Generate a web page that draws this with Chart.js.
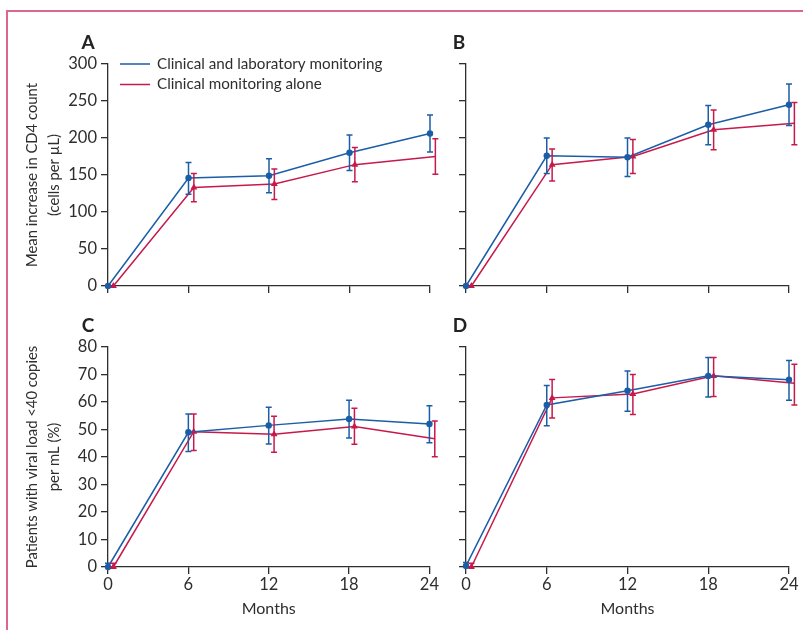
<!DOCTYPE html>
<html>
<head>
<meta charset="utf-8">
<script src="https://cdn.jsdelivr.net/npm/chart.js@4.4.0/dist/chart.umd.min.js"></script>
<style>
  body { margin: 0; background: #fff; }
  #frame { position: absolute; left: 6px; top: 10px; width: 797px; height: 620px;
    border-top: 2px solid #d9688a; border-left: 2px solid #d9688a; box-sizing: border-box; }
  canvas { position: absolute; }
</style>
</head>
<body>
<div id="frame"></div>
<canvas id="chartA" width="440" height="290" style="left:0;top:24px"></canvas>
<canvas id="chartB" width="363" height="290" style="left:440px;top:24px"></canvas>
<canvas id="chartC" width="440" height="324" style="left:0;top:306px"></canvas>
<canvas id="chartD" width="363" height="324" style="left:440px;top:306px"></canvas>
<script>
// months of follow-up
var months = [0, 6, 12, 18, 24];
var seriesNames = ['Clinical and laboratory monitoring', 'Clinical monitoring alone'];

// A: mean increase in CD4 count (cells per µL)
var cd4A_lab = [0, 146, 149, 180, 206];
var cd4A_labLow = [0, 124, 126, 156, 181];
var cd4A_labHigh = [0, 167, 172, 204, 231];
var cd4A_clin = [0, 133, 138, 164, 175];
var cd4A_clinLow = [0, 114, 117, 141, 151];
var cd4A_clinHigh = [0, 152, 158, 187, 199];

// B
var cd4B_lab = [0, 176, 174, 218, 245];
var cd4B_labLow = [0, 152, 148, 191, 217];
var cd4B_labHigh = [0, 200, 200, 244, 273];
var cd4B_clin = [0, 164, 175, 211, 220];
var cd4B_clinLow = [0, 142, 152, 184, 191];
var cd4B_clinHigh = [0, 185, 198, 238, 248];

// C: patients with viral load <40 copies per mL (%)
var vlC_lab = [0, 49, 51.5, 53.8, 52];
var vlC_labLow = [0, 42, 44.7, 46.9, 45.2];
var vlC_labHigh = [1.4, 55.6, 58.1, 60.6, 58.6];
var vlC_clin = [0, 49.2, 48.3, 51.1, 46.6];
var vlC_clinLow = [0, 42.4, 41.7, 44.6, 40.1];
var vlC_clinHigh = [1.4, 55.6, 54.8, 57.7, 53.1];

// D
var vlD_lab = [0.4, 58.9, 64.1, 69.5, 68.1];
var vlD_labLow = [0, 51.4, 56.6, 61.8, 60.6];
var vlD_labHigh = [1.6, 66, 71.3, 76.2, 75.1];
var vlD_clin = [0, 61.5, 62.9, 69.5, 66.8];
var vlD_clinLow = [0, 54.2, 55.5, 62, 58.9];
var vlD_clinHigh = [1.4, 68.2, 70, 76.2, 73.7];

var blue = '#1b5ea7';
var red = '#c61a4c';
var ink = '#2e2e2e';
var fontFamily = 'Lato, "Open Sans", sans-serif';
var dodge = 0.4; // second series is shifted slightly right

function points(values, shift) {
    return values.map(function (v, i) { return { x: months[i] + shift, y: v }; });
}

// error bars, drawn with the chart's own scales
var errorBars = {
    id: 'errorBars',
    afterDatasetsDraw: function (chart) {
        var ctx = chart.ctx, xs = chart.scales.x, ys = chart.scales.y;
        chart.data.datasets.forEach(function (ds) {
            ctx.save();
            ctx.strokeStyle = ds.borderColor;
            ctx.lineWidth = 1.5;
            ds.data.forEach(function (p, j) {
                var lo = ds.errLow[j], hi = ds.errHigh[j];
                if (hi - lo <= 0) return;
                var x = xs.getPixelForValue(p.x);
                var y1 = ys.getPixelForValue(lo), y2 = ys.getPixelForValue(hi);
                ctx.beginPath();
                ctx.moveTo(x, y1); ctx.lineTo(x, y2);
                ctx.moveTo(x - 3, y1); ctx.lineTo(x + 3, y1);
                ctx.moveTo(x - 3, y2); ctx.lineTo(x + 3, y2);
                ctx.stroke();
            });
            ctx.restore();
        });
    }
};

// panel letter and (optional) legend inside the plot
var panelDecor = {
    id: 'panelDecor',
    afterDraw: function (chart, args, opts) {
        var ctx = chart.ctx, area = chart.chartArea;
        ctx.save();
        ctx.fillStyle = '#222';
        ctx.font = 'bold 19px ' + fontFamily;
        ctx.textAlign = 'center';
        ctx.textBaseline = 'middle';
        ctx.fillText(opts.letter, area.left + opts.letterDx, area.top - 21);
        if (opts.legend) {
            ctx.font = '15.2px ' + fontFamily;
            ctx.textAlign = 'left';
            chart.data.datasets.forEach(function (ds, i) {
                var y = area.top + i * 20.5;
                ctx.strokeStyle = ds.borderColor;
                ctx.lineWidth = 1.5;
                ctx.beginPath();
                ctx.moveTo(area.left + 12, y);
                ctx.lineTo(area.left + 42, y);
                ctx.stroke();
                ctx.fillStyle = ink;
                ctx.fillText(ds.label, area.left + 49, y);
            });
        }
        ctx.restore();
    }
};

function makePanel(id, cfg) {
    var ctx = document.getElementById(id).getContext('2d');
    return new Chart(ctx, {
        type: 'line',
        data: {
            datasets: [{
                label: seriesNames[0],
                data: points(cfg.lab, 0),
                errLow: cfg.labLow, errHigh: cfg.labHigh,
                borderColor: blue, backgroundColor: blue,
                borderWidth: 1.5, pointStyle: 'circle', pointRadius: 3.2,
                pointBorderWidth: 0, clip: false
            }, {
                label: seriesNames[1],
                data: points(cfg.clin, dodge),
                errLow: cfg.clinLow, errHigh: cfg.clinHigh,
                borderColor: red, backgroundColor: red,
                borderWidth: 1.5, pointStyle: 'triangle', pointRadius: 4,
                pointBorderWidth: 0, clip: false
            }]
        },
        options: {
            responsive: false,
            animation: false,
            devicePixelRatio: 1,
            layout: { padding: { top: cfg.padTop, right: cfg.padRight, left: 0, bottom: 0 } },
            plugins: {
                legend: { display: false },
                tooltip: { enabled: false },
                panelDecor: { letter: cfg.letter, letterDx: cfg.letterDx, legend: cfg.legend }
            },
            scales: {
                x: {
                    type: 'linear', min: 0, max: 24,
                    afterFit: function (s) { s.height = cfg.xHeight; },
                    border: { display: true, color: ink, width: 1.3 },
                    grid: { drawOnChartArea: false, drawTicks: true, tickLength: 7, color: ink, lineWidth: 1.3 },
                    ticks: { display: cfg.xLabels, stepSize: 6, padding: 1, color: ink, font: { family: fontFamily, size: 16.5 } },
                    title: { display: cfg.xLabels, text: 'Months', color: ink,
                        padding: { top: 0, bottom: 12 }, font: { family: fontFamily, size: 16 } }
                },
                y: {
                    min: 0, max: cfg.yMax,
                    afterFit: function (s) { s.width = cfg.yWidth; },
                    border: { display: true, color: ink, width: 1.3 },
                    grid: { drawOnChartArea: false, drawTicks: true, tickLength: 7, color: ink, lineWidth: 1.3 },
                    ticks: { display: cfg.yLabels, stepSize: cfg.yStep, padding: 4, color: ink, font: { family: fontFamily, size: 16.5 } },
                    title: { display: !!cfg.yTitle, text: cfg.yTitle || '', color: ink,
                        padding: { top: 21, bottom: 0 }, font: { family: fontFamily, size: 14.8, lineHeight: '22px' } }
                }
            }
        },
        plugins: [errorBars, panelDecor]
    });
}

makePanel('chartA', {
    lab: cd4A_lab, labLow: cd4A_labLow, labHigh: cd4A_labHigh,
    clin: cd4A_clin, clinLow: cd4A_clinLow, clinHigh: cd4A_clinHigh,
    yMax: 300, yStep: 50, yWidth: 108, yLabels: true, xLabels: false, xHeight: 28,
    padTop: 40, padRight: 10, letter: 'A', letterDx: -20, legend: true,
    yTitle: ['Mean increase in CD4 count', '(cells per µL)']
});
makePanel('chartB', {
    lab: cd4B_lab, labLow: cd4B_labLow, labHigh: cd4B_labHigh,
    clin: cd4B_clin, clinLow: cd4B_clinLow, clinHigh: cd4B_clinHigh,
    yMax: 300, yStep: 50, yWidth: 26, yLabels: false, xLabels: false, xHeight: 28,
    padTop: 40, padRight: 14, letter: 'B', letterDx: -7, legend: false
});
makePanel('chartC', {
    lab: vlC_lab, labLow: vlC_labLow, labHigh: vlC_labHigh,
    clin: vlC_clin, clinLow: vlC_clinLow, clinHigh: vlC_clinHigh,
    yMax: 80, yStep: 10, yWidth: 108, yLabels: true, xLabels: true, xHeight: 63,
    padTop: 41, padRight: 10, letter: 'C', letterDx: -20, legend: false,
    yTitle: ['Patients with viral load <40 copies', 'per mL (%)']
});
makePanel('chartD', {
    lab: vlD_lab, labLow: vlD_labLow, labHigh: vlD_labHigh,
    clin: vlD_clin, clinLow: vlD_clinLow, clinHigh: vlD_clinHigh,
    yMax: 80, yStep: 10, yWidth: 26, yLabels: false, xLabels: true, xHeight: 63,
    padTop: 41, padRight: 14, letter: 'D', letterDx: -6, legend: false
});
</script>
</body>
</html>
